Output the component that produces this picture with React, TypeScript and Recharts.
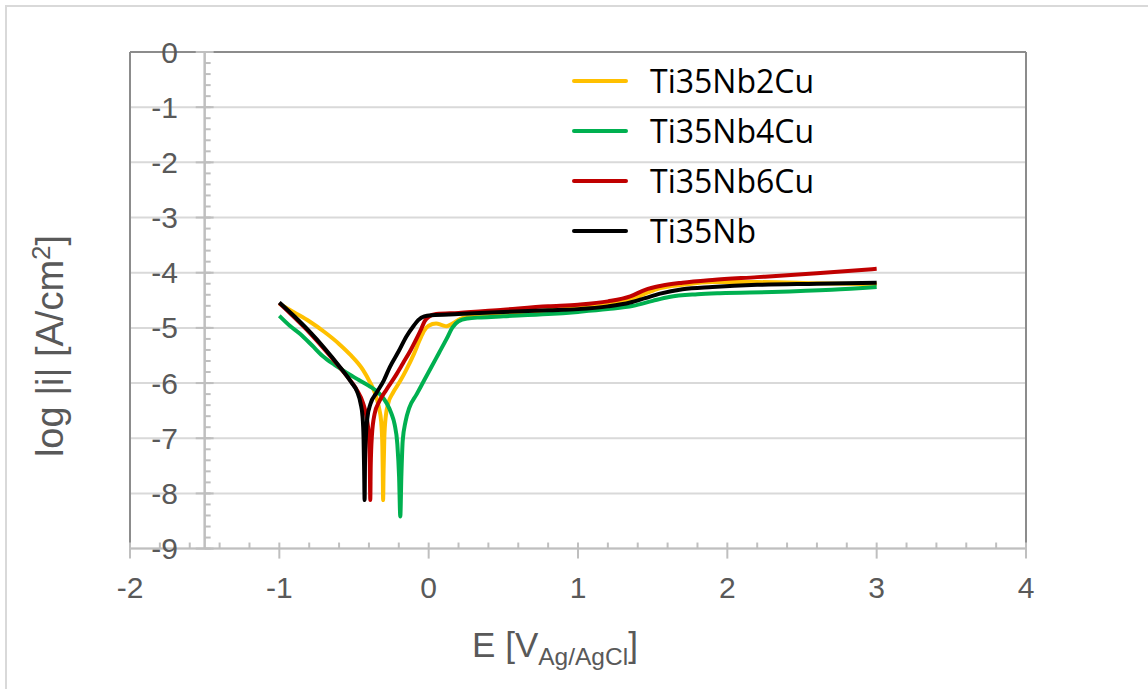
import React from "react";
import {
  CartesianGrid,
  Customized,
  Legend,
  Line,
  LineChart,
  ReferenceLine,
  XAxis,
  YAxis,
} from "recharts";

const xTicks = [-2, -1, 0, 1, 2, 3, 4];
const yTicks = [0, -1, -2, -3, -4, -5, -6, -7, -8, -9];
const seriesNames = ["Ti35Nb2Cu", "Ti35Nb4Cu", "Ti35Nb6Cu", "Ti35Nb"];
const seriesColors = ["#FFC000", "#00B050", "#C00000", "#000000"];

// [E in V, log|i|]
const ti35Nb2Cu: [number, number][] = [
  [-1.0, -4.56], [-0.9, -4.72], [-0.8, -4.88], [-0.7, -5.07], [-0.6, -5.29],
  [-0.52, -5.5], [-0.44, -5.76], [-0.39, -6.0], [-0.36, -6.18], [-0.335, -6.42],
  [-0.318, -6.7], [-0.31, -7.15], [-0.307, -7.7], [-0.305, -8.12], [-0.302, -7.6],
  [-0.297, -7.0], [-0.288, -6.62], [-0.27, -6.36], [-0.24, -6.18], [-0.19, -5.96],
  [-0.15, -5.76], [-0.1, -5.48], [-0.06, -5.22], [-0.03, -5.05], [0.0, -4.96],
  [0.05, -4.92], [0.09, -4.95], [0.12, -4.97], [0.16, -4.92], [0.21, -4.84],
  [0.3, -4.78], [0.5, -4.74], [0.8, -4.68], [1.0, -4.64], [1.2, -4.58],
  [1.35, -4.49], [1.45, -4.38], [1.55, -4.28], [1.7, -4.22], [1.9, -4.17],
  [2.2, -4.17], [2.6, -4.19], [3.0, -4.21],
];

const ti35Nb4Cu: [number, number][] = [
  [-1.0, -4.78], [-0.93, -4.96], [-0.86, -5.11], [-0.78, -5.32], [-0.71, -5.51],
  [-0.63, -5.67], [-0.55, -5.81], [-0.47, -5.94], [-0.4, -6.05], [-0.33, -6.19],
  [-0.28, -6.37], [-0.25, -6.55], [-0.228, -6.75], [-0.21, -7.1], [-0.198, -7.7],
  [-0.19, -8.42], [-0.183, -7.7], [-0.174, -7.05], [-0.155, -6.7], [-0.13, -6.45],
  [-0.08, -6.2], [-0.03, -5.95], [0.02, -5.7], [0.07, -5.45], [0.12, -5.2],
  [0.16, -4.99], [0.2, -4.88], [0.26, -4.83], [0.35, -4.81], [0.5, -4.79],
  [0.8, -4.75], [1.0, -4.71], [1.2, -4.66], [1.37, -4.6], [1.5, -4.51],
  [1.61, -4.44], [1.8, -4.39], [1.95, -4.37], [2.3, -4.35], [2.7, -4.31],
  [3.0, -4.26],
];

const ti35Nb6Cu: [number, number][] = [
  [-1.0, -4.55], [-0.9, -4.81], [-0.8, -5.08], [-0.7, -5.38], [-0.6, -5.7],
  [-0.52, -5.97], [-0.48, -6.13], [-0.44, -6.36], [-0.415, -6.63], [-0.4, -6.98],
  [-0.394, -7.5], [-0.391, -8.12], [-0.388, -7.5], [-0.38, -6.95], [-0.362, -6.56],
  [-0.33, -6.33], [-0.283, -6.12], [-0.22, -5.86], [-0.172, -5.64], [-0.12, -5.4],
  [-0.082, -5.2], [-0.05, -5.02], [-0.027, -4.88], [0.0, -4.8], [0.05, -4.75],
  [0.2, -4.73], [0.5, -4.67], [0.8, -4.61], [1.0, -4.58], [1.2, -4.52],
  [1.35, -4.43], [1.45, -4.31], [1.55, -4.24], [1.7, -4.18], [1.9, -4.13],
  [2.2, -4.08], [2.6, -4.01], [3.0, -3.93],
];

const ti35Nb: [number, number][] = [
  [-1.0, -4.54], [-0.9, -4.79], [-0.8, -5.06], [-0.7, -5.36], [-0.6, -5.69],
  [-0.52, -5.98], [-0.48, -6.15], [-0.455, -6.38], [-0.443, -6.6], [-0.436, -7.0],
  [-0.432, -7.6], [-0.429, -8.12], [-0.426, -7.4], [-0.42, -6.95], [-0.41, -6.62],
  [-0.39, -6.38], [-0.35, -6.18], [-0.3, -5.95], [-0.26, -5.71], [-0.2, -5.42],
  [-0.15, -5.16], [-0.1, -4.96], [-0.07, -4.86], [-0.03, -4.79], [0.02, -4.77],
  [0.2, -4.75], [0.5, -4.71], [0.8, -4.68], [1.0, -4.66], [1.2, -4.61],
  [1.35, -4.54], [1.45, -4.46], [1.55, -4.38], [1.7, -4.3], [1.9, -4.26],
  [2.2, -4.22], [2.6, -4.2], [3.0, -4.18],
];

const allSeries = [ti35Nb2Cu, ti35Nb4Cu, ti35Nb6Cu, ti35Nb];

const toRows = (pts: [number, number][]) => pts.map(([E, v]) => ({ E, v }));

// minor tick positions (0.2 steps)
const xMinor: number[] = [];
for (let i = 0; i <= 30; i++) xMinor.push(+(-2 + i * 0.2).toFixed(2));
const yMinor: number[] = [];
for (let i = 0; i <= 45; i++) yMinor.push(+(-9 + i * 0.2).toFixed(2));

const AXIS_FONT = "'Liberation Sans', Arial, sans-serif";
const GRAY_TEXT = "#595959";
const AXIS_GRAY = "#bfbfbf";
const FRAME = "#8c8c8c";

const XTick = (props: any) => {
  const { x, y, payload } = props;
  return (
    <text x={x} y={y + 37} textAnchor="middle" fill={GRAY_TEXT} fontSize={30} fontFamily={AXIS_FONT}>
      {payload.value}
    </text>
  );
};

const YTick = (props: any) => {
  const { y, payload } = props;
  return (
    <text x={178} y={y + 10.5} textAnchor="end" fill={GRAY_TEXT} fontSize={30} fontFamily={AXIS_FONT}>
      {payload.value}
    </text>
  );
};

const Titles = () => (
  <g fontFamily={AXIS_FONT} fill={GRAY_TEXT}>
    <text x={555} y={657} textAnchor="middle" fontSize={35}>
      E [V
      <tspan fontSize={24.5} dy={8}>Ag/AgCl</tspan>
      <tspan dy={-8}>]</tspan>
    </text>
    <text
      x={0}
      y={0}
      transform="translate(63,346) rotate(-90)"
      textAnchor="middle"
      fontSize={38}
    >
      log |i|  [A/cm
      <tspan fontSize={26} dy={-13}>2</tspan>
      <tspan dy={13}>]</tspan>
    </text>
  </g>
);

const renderLegend = (props: any) => {
  const payload: any[] = props.payload || [];
  const ordered = seriesNames
    .map((n) => payload.find((p) => p.value === n))
    .filter(Boolean);
  return (
    <div>
      {ordered.map((entry: any) => (
        <div key={entry.value} style={{ display: "flex", alignItems: "center", height: 50 }}>
          <svg width={56} height={8}>
            <line x1={2} y1={4} x2={54} y2={4} stroke={entry.color} strokeWidth={4} strokeLinecap="round" />
          </svg>
          <span
            style={{
              marginLeft: 22,
              fontSize: 32,
              fontFamily: "'Open Sans', sans-serif",
              color: "#000",
              lineHeight: "50px",
            }}
          >
            {entry.value}
          </span>
        </div>
      ))}
    </div>
  );
};

export default function App() {
  return (
    <div
      style={{
        position: "absolute",
        left: 0,
        top: 0,
        width: 1148,
        height: 689,
        overflow: "hidden",
        background: "#fff",
      }}
    >
      <div
        style={{
          position: "absolute",
          left: 5,
          top: 5,
          width: 1160,
          height: 700,
          border: "2px solid #d9d9d9",
        }}
      />
      <div style={{ position: "absolute", left: 0, top: 0 }}>
        <LineChart width={1148} height={689} margin={{ top: 52, right: 122, bottom: 100.4, left: 70 }}>
          <CartesianGrid vertical={false} stroke="#d9d9d9" strokeWidth={2} />
          <XAxis
            dataKey="E"
            type="number"
            domain={[-2, 4]}
            ticks={xTicks}
            height={40}
            allowDataOverflow
            stroke={AXIS_GRAY}
            strokeWidth={2}
            tickSize={10}
            tickLine={{ stroke: AXIS_GRAY, strokeWidth: 2 }}
            tick={<XTick />}
          />
          <YAxis
            type="number"
            domain={[-9, 0]}
            ticks={yTicks}
            width={60}
            allowDataOverflow
            axisLine={false}
            tickLine={false}
            tick={<YTick />}
          />
          <ReferenceLine x={-2} stroke={FRAME} strokeWidth={2} />
          <ReferenceLine x={4} stroke={FRAME} strokeWidth={2} />
          <ReferenceLine y={0} stroke={FRAME} strokeWidth={2} />
          <ReferenceLine x={-1.5} stroke={AXIS_GRAY} strokeWidth={2.5} />
          {xMinor.map((t) => (
            <ReferenceLine
              key={"xm" + t}
              segment={[{ x: t, y: -9 }, { x: t, y: -8.89 }]}
              stroke={AXIS_GRAY}
              strokeWidth={2}
            />
          ))}
          {yMinor.map((t) => (
            <ReferenceLine
              key={"ym" + t}
              segment={[{ x: -1.5, y: t }, { x: -1.46, y: t }]}
              stroke={AXIS_GRAY}
              strokeWidth={2}
            />
          ))}
          {yTicks.map((t) => (
            <ReferenceLine
              key={"yM" + t}
              segment={[{ x: -1.56, y: t }, { x: -1.44, y: t }]}
              stroke={AXIS_GRAY}
              strokeWidth={2}
            />
          ))}
          <Legend
            content={renderLegend}
            layout="horizontal"
            verticalAlign="middle"
            align="center"
            wrapperStyle={{ position: "absolute", top: 56, left: 572, width: 320 }}
          />
          {allSeries.map((s, i) => (
            <Line
              key={seriesNames[i]}
              data={toRows(s)}
              dataKey="v"
              name={seriesNames[i]}
              type="monotone"
              stroke={seriesColors[i]}
              strokeWidth={4}
              dot={false}
              activeDot={false}
              isAnimationActive={false}
            />
          ))}
          <Customized component={<Titles />} />
        </LineChart>
      </div>
    </div>
  );
}
